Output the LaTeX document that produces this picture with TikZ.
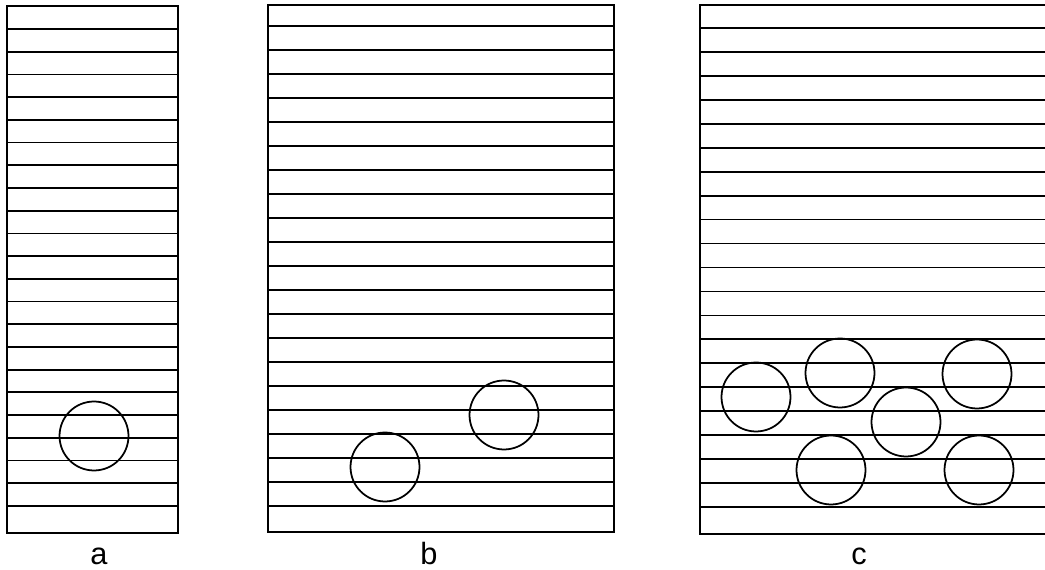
\documentclass[tikz,border=0pt]{standalone}
\usepackage{fontspec}
\setmainfont{Liberation Sans}
\usepackage{tikz}
\usetikzlibrary{positioning}

\begin{document}
\begin{tikzpicture}[
    x=0.02cm, y=-0.02cm,
    frame/.style={draw, line width=1pt},
    layer/.style={line width=1pt},
    bubble/.style={draw, line width=1pt},
    caption/.style={anchor=base, font=\fontsize{17.5}{20}\selectfont}
]
    \useasboundingbox (0,0) rectangle (1045,570);

    % Panel a
    \draw[frame] (7,6) rectangle (178,533);
    \foreach \i in {0,...,21}
        \draw[layer] (7,29+22.71*\i) -- (178,29+22.71*\i);
    \draw[bubble] (94,436) circle[radius=0.69cm];
    \node[caption] (capa) at (99,565) {a};

    % Panel b
    \draw[frame] (268,5) rectangle (614,532);
    \foreach \i in {0,...,20}
        \draw[layer] (268,26+24*\i) -- (614,26+24*\i);
    \draw[bubble] (385,467) circle[radius=0.69cm];
    \draw[bubble] (504,415) circle[radius=0.69cm];
    \node[caption] (capb) at (429,565) {b};

    % Panel c
    \draw[frame] (700,5) rectangle (1047,534);
    \foreach \i in {0,...,20}
        \draw[layer] (700,28+23.95*\i) -- (1047,28+23.95*\i);
    \foreach \cx/\cy in {756/397, 840/373, 906/422, 977/374, 831/470, 979/470}
        \draw[bubble] (\cx,\cy) circle[radius=0.69cm];
    \node[caption] (capc) at (859,565) {c};
\end{tikzpicture}
\end{document}
